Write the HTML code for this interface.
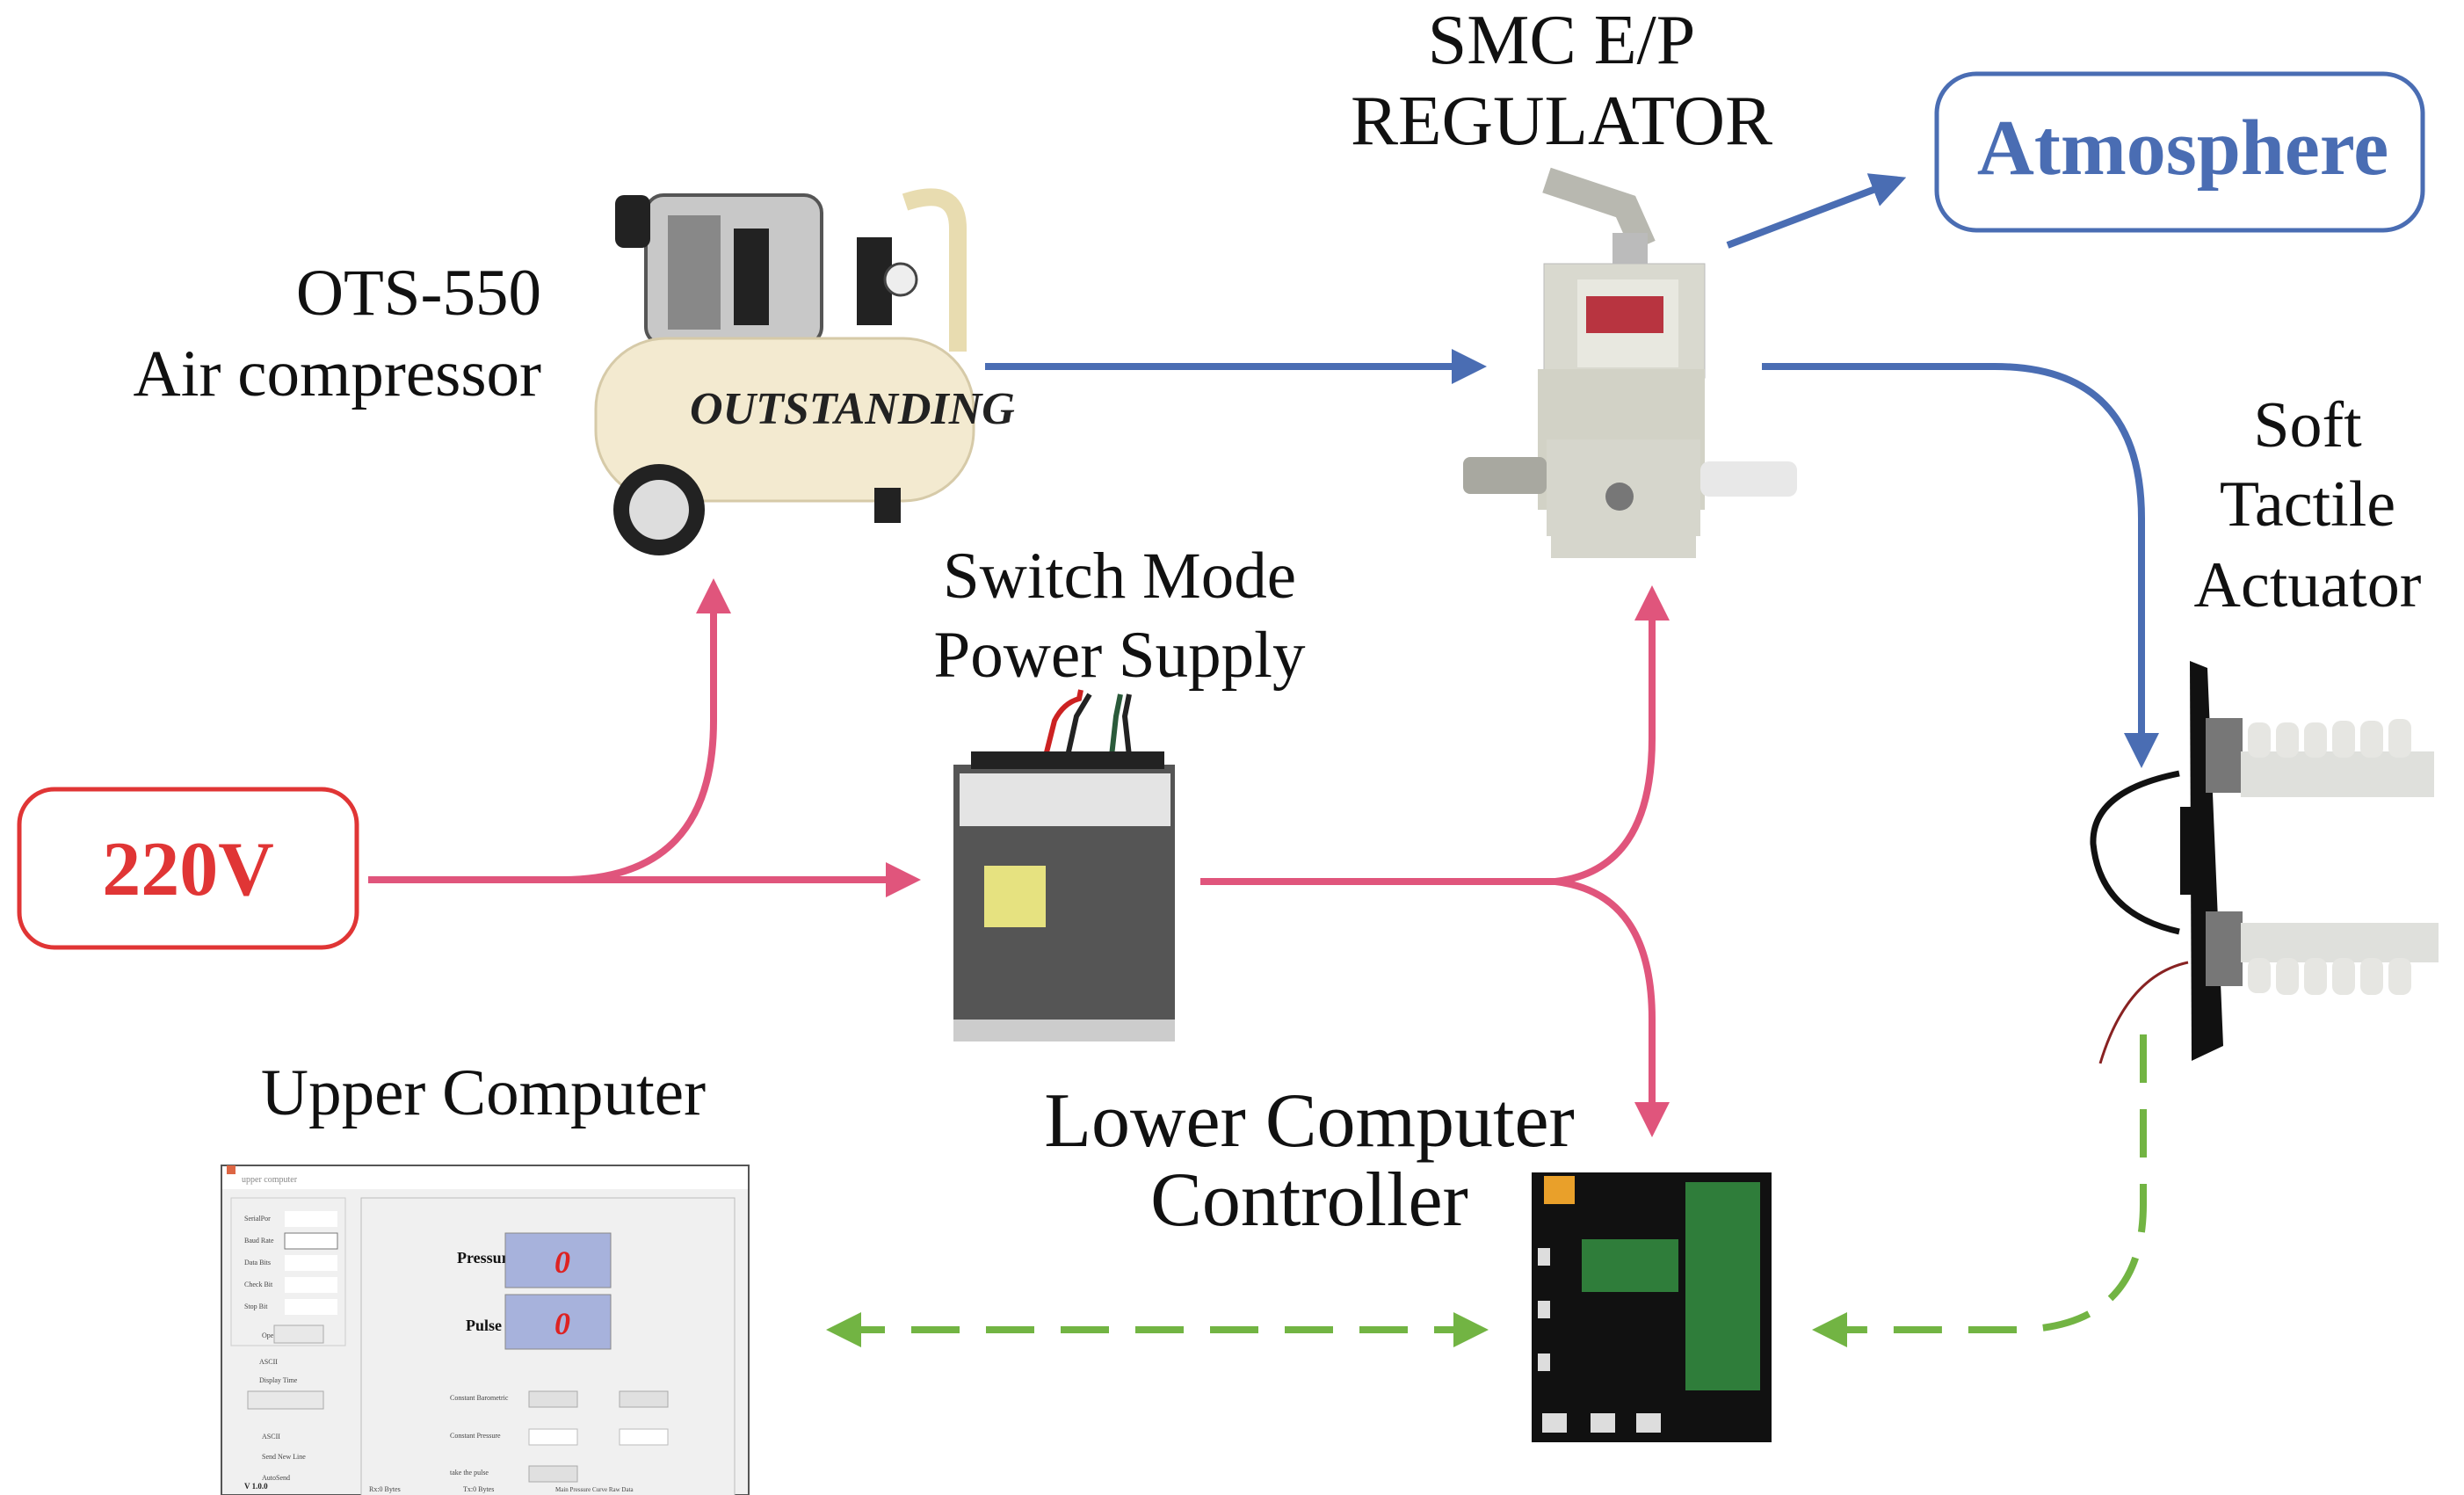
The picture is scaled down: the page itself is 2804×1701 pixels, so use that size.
<!DOCTYPE html>
<html><head><meta charset="utf-8"><style>
html,body{margin:0;padding:0;background:#fff}
svg{display:block}
text{font-family:"Liberation Serif",serif}
</style></head><body>
<svg width="2804" height="1701" viewBox="0 0 2804 1701" xmlns="http://www.w3.org/2000/svg">
<defs>
<marker id="ab" markerWidth="5" markerHeight="5" refX="3.5" refY="2.5" orient="auto" markerUnits="strokeWidth"><path d="M0,0 L5,2.5 L0,5 Z" fill="#4a6db3"/></marker>
<marker id="ap" markerWidth="5" markerHeight="5" refX="3.5" refY="2.5" orient="auto" markerUnits="strokeWidth"><path d="M0,0 L5,2.5 L0,5 Z" fill="#e0557c"/></marker>
<marker id="ag" markerWidth="5" markerHeight="5" refX="3.5" refY="2.5" orient="auto" markerUnits="strokeWidth"><path d="M0,0 L5,2.5 L0,5 Z" fill="#72b443"/></marker>
<marker id="ags" markerWidth="5" markerHeight="5" refX="1.5" refY="2.5" orient="auto" markerUnits="strokeWidth"><path d="M5,0 L0,2.5 L5,5 Z" fill="#72b443"/></marker>
</defs>

<!-- labels -->
<text x="616" y="358" font-size="75" text-anchor="end" fill="#111">OTS-550</text>
<text x="616" y="450" font-size="75" text-anchor="end" fill="#111">Air compressor</text>
<text x="1777" y="72" font-size="80" text-anchor="middle" fill="#111">SMC E/P</text>
<text x="1777" y="164" font-size="81" text-anchor="middle" fill="#111">REGULATOR</text>
<text x="1274" y="680" font-size="75" text-anchor="middle" fill="#111">Switch Mode</text>
<text x="1274" y="770" font-size="75" text-anchor="middle" fill="#111">Power Supply</text>
<text x="2626" y="508" font-size="74" text-anchor="middle" fill="#111">Soft</text>
<text x="2626" y="598" font-size="74" text-anchor="middle" fill="#111">Tactile</text>
<text x="2626" y="690" font-size="74" text-anchor="middle" fill="#111">Actuator</text>
<text x="550" y="1268" font-size="75" text-anchor="middle" fill="#111">Upper Computer</text>
<text x="1490" y="1304" font-size="88" text-anchor="middle" fill="#111">Lower Computer</text>
<text x="1490" y="1394" font-size="88" text-anchor="middle" fill="#111">Controller</text>

<!-- boxes -->
<rect x="2204" y="84" width="553" height="178" rx="45" fill="#fff" stroke="#4a6db3" stroke-width="5"/>
<text x="2484" y="198" font-size="90" font-weight="bold" text-anchor="middle" fill="#4a6db3">Atmosphere</text>
<rect x="22" y="898" width="384" height="180" rx="40" fill="#fff" stroke="#e03535" stroke-width="5"/>
<text x="214" y="1018" font-size="88" font-weight="bold" text-anchor="middle" fill="#e03535">220V</text>

<!-- blue arrows -->
<g stroke="#4a6db3" stroke-width="8" fill="none">
<path d="M1121,417 L1680,417" marker-end="url(#ab)"/>
<path d="M1966,279 L2158,206" marker-end="url(#ab)"/>
<path d="M2005,417 L2270,417 Q2437,417 2437,590 L2437,862" marker-end="url(#ab)"/>
</g>
<!-- pink arrows -->
<g stroke="#e0557c" stroke-width="8" fill="none">
<path d="M419,1001 L1036,1001" marker-end="url(#ap)"/>
<path d="M640,1001 Q812,1001 812,820 L812,670" marker-end="url(#ap)"/>
<path d="M1366,1003 L1770,1003 Q1880,990 1880,840 L1880,678" marker-end="url(#ap)"/>
<path d="M1770,1003 Q1880,1016 1880,1160 L1880,1282" marker-end="url(#ap)"/>
</g>
<!-- green dashed -->
<g stroke="#72b443" stroke-width="8" fill="none" stroke-dasharray="55,30">
<path d="M952,1513 L1682,1513" marker-start="url(#ags)" marker-end="url(#ag)"/>
<path d="M2439,1177 L2439,1370 Q2439,1513 2290,1513 L2074,1513" marker-end="url(#ag)"/>
</g>

<!-- compressor -->
<g>
<rect x="735" y="222" width="200" height="170" rx="20" fill="#c8c8c8" stroke="#555" stroke-width="4"/>
<rect x="760" y="245" width="60" height="130" fill="#888"/>
<rect x="835" y="260" width="40" height="110" fill="#222"/>
<rect x="700" y="222" width="40" height="60" rx="10" fill="#222"/>
<path d="M1030,230 Q1090,210 1090,260 L1090,400" stroke="#e8dcb0" stroke-width="20" fill="none"/>
<rect x="975" y="270" width="40" height="100" fill="#222"/>
<circle cx="1025" cy="318" r="18" fill="#eee" stroke="#444" stroke-width="3"/>
<rect x="678" y="385" width="430" height="185" rx="80" fill="#f3ead0" stroke="#d6caa8" stroke-width="3"/>
<text x="785" y="482" font-size="52" font-weight="bold" font-style="italic" fill="#222" font-family="Liberation Sans,sans-serif">OUTSTANDING</text>
<circle cx="750" cy="580" r="52" fill="#222"/>
<circle cx="750" cy="580" r="34" fill="#ddd"/>
<rect x="995" y="555" width="30" height="40" fill="#222"/>
</g>

<!-- regulator -->
<g>
<path d="M1760,205 L1850,235 L1870,280" stroke="#b8b8b0" stroke-width="30" fill="none"/>
<rect x="1835" y="265" width="40" height="45" fill="#bbb"/>
<rect x="1757" y="300" width="183" height="130" fill="#d9d9cf" stroke="#bbb"/>
<rect x="1795" y="318" width="115" height="100" fill="#e8e8e0"/>
<rect x="1805" y="337" width="88" height="42" fill="#b83440"/>
<rect x="1750" y="420" width="190" height="160" fill="#d2d2c6"/>
<rect x="1760" y="500" width="175" height="110" fill="#d6d6cc"/>
<rect x="1665" y="520" width="95" height="42" rx="8" fill="#a8a8a0"/>
<rect x="1935" y="525" width="110" height="40" rx="10" fill="#e8e8e8"/>
<circle cx="1843" cy="565" r="16" fill="#777"/>
<rect x="1765" y="605" width="165" height="30" fill="#d6d6cc"/>
</g>

<!-- PSU -->
<g>
<path d="M1190,860 L1200,820 Q1210,800 1228,795 L1230,785" stroke="#c22" stroke-width="6" fill="none"/>
<path d="M1215,860 L1225,815 L1240,790" stroke="#222" stroke-width="6" fill="none"/>
<path d="M1265,860 L1270,815 L1275,790" stroke="#2a5a3a" stroke-width="6" fill="none"/>
<path d="M1285,860 L1280,815 L1285,790" stroke="#222" stroke-width="6" fill="none"/>
<rect x="1085" y="870" width="252" height="310" fill="#555"/>
<rect x="1092" y="880" width="240" height="60" fill="#e4e4e4"/>
<rect x="1120" y="985" width="70" height="70" fill="#e6e280"/>
<rect x="1085" y="1160" width="252" height="25" fill="#ccc"/>
<rect x="1105" y="855" width="220" height="20" fill="#222"/>
</g>

<!-- actuator -->
<g>
<path d="M2492,752 L2512,760 L2530,1190 L2494,1207 Z" fill="#111"/>
<rect x="2481" y="918" width="20" height="100" fill="#111"/>
<path d="M2480,880 Q2380,900 2382,960 Q2390,1040 2480,1060" stroke="#111" stroke-width="7" fill="none"/>
<rect x="2510" y="817" width="42" height="85" fill="#777"/>
<rect x="2510" y="1037" width="42" height="85" fill="#777"/>
<rect x="2550" y="855" width="220" height="52" fill="#dfe0dc"/>
<g fill="#e6e6e2">
<rect x="2558" y="822" width="26" height="40" rx="10"/><rect x="2590" y="822" width="26" height="40" rx="10"/><rect x="2622" y="822" width="26" height="40" rx="10"/><rect x="2654" y="820" width="26" height="42" rx="10"/><rect x="2686" y="820" width="26" height="42" rx="10"/><rect x="2718" y="818" width="26" height="44" rx="10"/>
</g>
<rect x="2550" y="1050" width="225" height="45" fill="#dfe0dc"/>
<g fill="#e6e6e2">
<rect x="2558" y="1090" width="26" height="40" rx="10"/><rect x="2590" y="1090" width="26" height="42" rx="10"/><rect x="2622" y="1090" width="26" height="42" rx="10"/><rect x="2654" y="1090" width="26" height="42" rx="10"/><rect x="2686" y="1090" width="26" height="42" rx="10"/><rect x="2718" y="1090" width="26" height="42" rx="10"/>
</g>
<path d="M2490,1095 Q2420,1110 2390,1210" stroke="#822" stroke-width="3" fill="none"/>
</g>

<!-- PCB -->
<g>
<rect x="1743" y="1334" width="273" height="307" fill="#111"/>
<rect x="1757" y="1338" width="35" height="32" fill="#e9a02a"/>
<rect x="1918" y="1345" width="85" height="237" fill="#2f7d3a"/>
<rect x="1800" y="1410" width="110" height="60" fill="#2f7d3a"/>
<g fill="#ddd"><rect x="1750" y="1420" width="14" height="20"/><rect x="1750" y="1480" width="14" height="20"/><rect x="1750" y="1540" width="14" height="20"/><rect x="1755" y="1608" width="28" height="22"/><rect x="1810" y="1608" width="28" height="22"/><rect x="1862" y="1608" width="28" height="22"/></g>
</g>

<!-- upper computer window -->
<g font-family="Liberation Sans,sans-serif">
<rect x="252" y="1326" width="600" height="375" fill="#f0f0f0" stroke="#555" stroke-width="2"/>
<rect x="253" y="1327" width="598" height="26" fill="#fff"/>
<text x="275" y="1345" font-size="10" fill="#888">upper computer</text>
<rect x="258" y="1326" width="10" height="10" fill="#d64"/>
<rect x="263" y="1363" width="130" height="168" fill="#f0f0f0" stroke="#ccc"/>
<g font-size="8" fill="#444">
<text x="278" y="1389">SerialPor</text><text x="278" y="1414">Baud Rate</text><text x="278" y="1439">Data Bits</text><text x="278" y="1464">Check Bit</text><text x="278" y="1489">Stop Bit</text>
<text x="298" y="1522">Open</text><text x="295" y="1552">ASCII</text><text x="295" y="1573">Display Time</text><text x="310" y="1596">Clear</text>
<text x="298" y="1637">ASCII</text><text x="298" y="1660">Send New Line</text><text x="298" y="1684">AutoSend</text>
</g>
<g fill="#fff"><rect x="324" y="1378" width="60" height="18"/><rect x="324" y="1403" width="60" height="18" stroke="#777"/><rect x="324" y="1428" width="60" height="18"/><rect x="324" y="1453" width="60" height="18"/><rect x="324" y="1478" width="60" height="18"/></g>
<rect x="312" y="1508" width="56" height="20" fill="#e8e8e8" stroke="#aaa"/>
<rect x="282" y="1583" width="86" height="20" fill="#e8e8e8" stroke="#aaa"/>
<rect x="411" y="1363" width="425" height="342" fill="#f0f0f0" stroke="#bbb"/>
<text x="520" y="1437" font-size="18" font-weight="bold" fill="#111" font-family="Liberation Serif,serif">Pressur</text>
<text x="530" y="1514" font-size="18" font-weight="bold" fill="#111" font-family="Liberation Serif,serif">Pulse</text>
<rect x="575" y="1403" width="120" height="62" fill="#a7b2dc" stroke="#888"/>
<rect x="575" y="1473" width="120" height="62" fill="#a7b2dc" stroke="#888"/>
<text x="640" y="1448" font-size="36" font-weight="bold" font-style="italic" text-anchor="middle" fill="#d22">0</text>
<text x="640" y="1518" font-size="36" font-weight="bold" font-style="italic" text-anchor="middle" fill="#d22">0</text>
<g font-size="8" fill="#444">
<text x="512" y="1593">Constant Barometric</text><text x="512" y="1636">Constant Pressure</text><text x="512" y="1678">take the pulse</text>
</g>
<g fill="#e0e0e0" stroke="#aaa"><rect x="602" y="1583" width="55" height="18"/><rect x="705" y="1583" width="55" height="18"/><rect x="602" y="1668" width="55" height="18"/></g>
<g fill="#fff" stroke="#bbb"><rect x="602" y="1626" width="55" height="18"/><rect x="705" y="1626" width="55" height="18"/></g>
<text x="278" y="1694" font-size="9" font-weight="bold" fill="#222">V 1.0.0</text>
<text x="420" y="1697" font-size="8" fill="#444">Rx:0 Bytes</text>
<text x="527" y="1697" font-size="8" fill="#444">Tx:0 Bytes</text>
<text x="632" y="1697" font-size="7" fill="#444">Main  Pressure Curve  Raw Data</text>
</g>
</svg>
</body></html>
